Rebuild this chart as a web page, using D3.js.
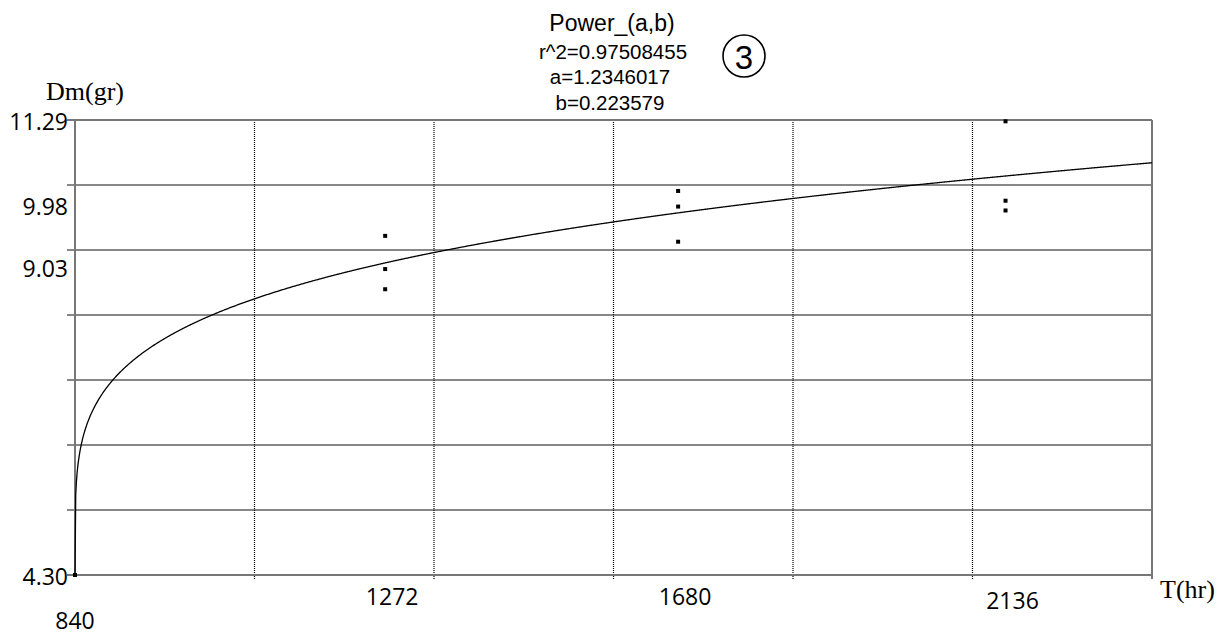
<!DOCTYPE html>
<html>
<head>
<meta charset="utf-8">
<script src="https://cdn.jsdelivr.net/npm/d3@7"></script>
<style>
  body { margin: 0; background: #fff; }
  svg { display: block; }
</style>
</head>
<body>
<div id="chart"></div>
<script>
// measured samples (T in hr, Dm in gr)
var tValues  = [840, 1272, 1272, 1272, 1680, 1680, 1680, 2136, 2136, 2136];
var dmValues = [4.30, 9.51, 9.00, 8.69, 10.20, 9.96, 9.42, 11.27, 10.05, 9.90];

// axis range and labelled ticks
var tRange = [840, 2340];
var dmRange = [4.30, 11.29];
var xTickLabels = [840, 1272, 1680, 2136];
var yTickLabels = ["11.29", "9.98", "9.03", "4.30"];

// fit shown in the header
var fitName = "Power_(a,b)";
var fitR2 = "0.97508455";
var fitA = 1.2346017;
var fitB = 0.223579;

var svgWidth = 1224;
var svgHeight = 637;
var margin = { top: 120, left: 75, right: 72, bottom: 62 };
var width = svgWidth - margin.left - margin.right;
var height = svgHeight - margin.top - margin.bottom;

var svg = d3.select("#chart")
    .append("svg")
    .attr("width", svgWidth)
    .attr("height", svgHeight);

var chartGroup = svg.append("g")
    .attr("transform", `translate(${margin.left}, ${margin.top})`);

var xScale = d3.scaleLinear().domain(tRange).range([0, width]);
var yScale = d3.scaleLinear().domain(dmRange).range([height, 0]);

// grid: 6 columns, 7 rows
var xGrid = d3.range(0, 7).map(i => tRange[0] + i * (tRange[1] - tRange[0]) / 6);
var yGrid = d3.range(0, 8).map(i => dmRange[0] + i * (dmRange[1] - dmRange[0]) / 7);

chartGroup.append("g").selectAll("line")
    .data(xGrid.slice(1, 6))
    .enter()
    .append("line")
    .attr("x1", d => xScale(d)).attr("x2", d => xScale(d))
    .attr("y1", 0).attr("y2", height + 4)
    .attr("stroke", "#000")
    .attr("stroke-width", 1.2)
    .attr("stroke-dasharray", "1,1");

chartGroup.append("g").selectAll("line")
    .data(yGrid.slice(1, 7))
    .enter()
    .append("line")
    .attr("x1", -8).attr("x2", width)
    .attr("y1", d => yScale(d)).attr("y2", d => yScale(d))
    .attr("stroke", "#111")
    .attr("stroke-width", 1);

// frame lines (gray, heavier)
var frame = chartGroup.append("g")
    .attr("stroke", "#777")
    .attr("stroke-width", 2);
frame.append("line").attr("x1", -8).attr("x2", width).attr("y1", yScale(dmRange[1])).attr("y2", yScale(dmRange[1]));
frame.append("line").attr("x1", -8).attr("x2", width).attr("y1", yScale(dmRange[0])).attr("y2", yScale(dmRange[0]));
frame.append("line").attr("x1", xScale(tRange[1])).attr("x2", xScale(tRange[1])).attr("y1", 0).attr("y2", height + 4);
frame.append("line").attr("x1", xScale(tRange[0])).attr("x2", xScale(tRange[0])).attr("y1", 0).attr("y2", height);

// fitted power curve from the printed parameters
var curveT = d3.range(tRange[0], tRange[1] + 1, 1);
var line = d3.line()
    .x(d => xScale(d))
    .y(d => yScale(dmRange[0] + fitA * Math.pow(d - tRange[0], fitB)));

chartGroup.append("path")
    .datum(curveT)
    .attr("d", line)
    .attr("fill", "none")
    .attr("stroke", "#000")
    .attr("stroke-width", 1.3);

// data points
chartGroup.append("g").selectAll("rect")
    .data(tValues.map((t, i) => [t, dmValues[i]]))
    .enter()
    .append("rect")
    .attr("x", d => xScale(d[0]) - 2)
    .attr("y", d => yScale(d[1]) - 2)
    .attr("width", 4)
    .attr("height", 4)
    .attr("fill", "#000");

// y tick labels
chartGroup.append("g").selectAll("text")
    .data(yTickLabels)
    .enter()
    .append("text")
    .attr("x", -7)
    .attr("y", d => yScale(+d) + 4)
    .attr("text-anchor", "end")
    .attr("dominant-baseline", "middle")
    .attr("font-family", "'Open Sans', sans-serif")
    .attr("font-size", "23px")
    .attr("fill", "#000")
    .text(d => d);

// x tick labels (staggered like the original)
var xLabelY = [623, 599, 599, 603];
chartGroup.append("g").selectAll("text")
    .data(xTickLabels)
    .enter()
    .append("text")
    .attr("x", d => xScale(d) + (d === 840 ? 0 : 7))
    .attr("y", (d, i) => xLabelY[i] - margin.top)
    .attr("text-anchor", "middle")
    .attr("dominant-baseline", "middle")
    .attr("font-family", "'Open Sans', sans-serif")
    .attr("font-size", "23px")
    .attr("fill", "#000")
    .text(d => d);

// axis titles
svg.append("text")
    .attr("x", 46)
    .attr("y", 100)
    .attr("font-family", "'Liberation Serif', 'Times New Roman', serif")
    .attr("font-size", "26px")
    .attr("fill", "#000")
    .text("Dm(gr)");

svg.append("text")
    .attr("x", 1160)
    .attr("y", 598)
    .attr("font-family", "'Liberation Serif', 'Times New Roman', serif")
    .attr("font-size", "26px")
    .attr("fill", "#000")
    .text("T(hr)");

// header
var header = svg.append("g")
    .attr("font-family", "'Liberation Sans', Arial, sans-serif")
    .attr("text-anchor", "middle")
    .attr("fill", "#000");

header.append("text").attr("x", 612).attr("y", 31).attr("font-size", "23px").text(fitName);
header.append("text").attr("x", 613).attr("y", 59).attr("font-size", "20.5px").text("r^2=" + fitR2);
header.append("text").attr("x", 610).attr("y", 84).attr("font-size", "20.5px").text("a=" + fitA);
header.append("text").attr("x", 610).attr("y", 110).attr("font-size", "20.5px").text("b=" + fitB);

// circled number
svg.append("circle")
    .attr("cx", 744)
    .attr("cy", 56)
    .attr("r", 21)
    .attr("fill", "none")
    .attr("stroke", "#000")
    .attr("stroke-width", 1.6);
svg.append("text")
    .attr("x", 744)
    .attr("y", 57)
    .attr("text-anchor", "middle")
    .attr("dominant-baseline", "central")
    .attr("font-family", "'Liberation Sans', Arial, sans-serif")
    .attr("font-size", "33px")
    .attr("fill", "#000")
    .text("3");
</script>
</body>
</html>
